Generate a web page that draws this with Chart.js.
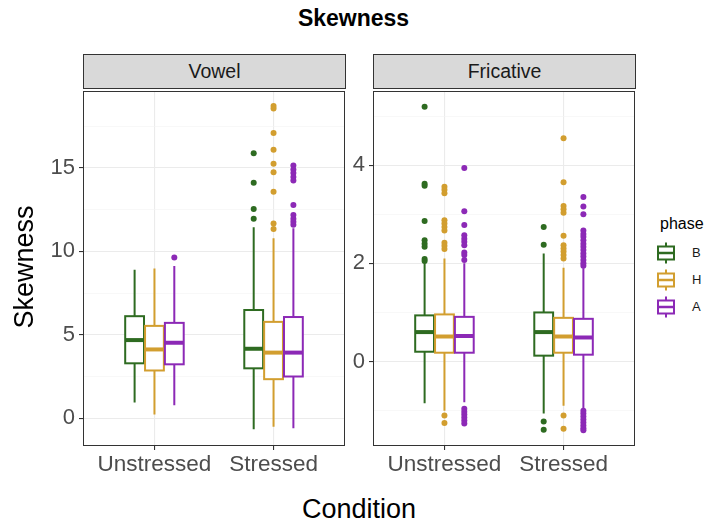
<!DOCTYPE html>
<html>
<head>
<meta charset="utf-8">
<script src="https://cdn.jsdelivr.net/npm/chart.js@4.4.1/dist/chart.umd.min.js"></script>
<style>
  body { margin: 0; background: #fff; font-family: "Liberation Sans", Arial, sans-serif; }
  #fig { position: relative; width: 707px; height: 518px; overflow: hidden; background: #fff; }
  #fig canvas { position: absolute; }
  .txt { position: absolute; white-space: nowrap; text-align: center; }
  .strip {
    position: absolute; top: 54px; height: 35px; width: 263px; box-sizing: border-box;
    background: #D9D9D9; border: 1px solid #333; color: #1A1A1A; font-size: 19.5px;
    display: flex; align-items: center; justify-content: center;
  }
  .key { position: absolute; left: 655px; }
  .keylab { position: absolute; left: 692px; font-size: 13px; color: #1A1A1A; line-height: 16px; }
</style>
</head>
<body>
<div id="fig">
  <div class="txt" style="left:0;top:5px;width:707px;line-height:26px;font-size:23px;font-weight:bold;color:#000">Skewness</div>

  <div class="strip" style="left:83px">Vowel</div>
  <div class="strip" style="left:373px">Fricative</div>

  <canvas id="vowel" width="350" height="400" style="left:0;top:88px"></canvas>
  <canvas id="fricative" width="300" height="400" style="left:340px;top:88px"></canvas>

  <div class="txt" style="left:-126px;top:252px;width:300px;line-height:30px;font-size:27px;color:#000;transform:rotate(-90deg)">Skewness</div>
  <div class="txt" style="left:209px;top:494px;width:300px;line-height:30px;font-size:27px;color:#000">Condition</div>

  <div class="txt" style="left:660px;top:214px;line-height:20px;font-size:16px;color:#000;text-align:left">phase</div>
  <div id="legend"></div>
</div>

<script>
const conditions = ['Unstressed', 'Stressed'];
const phases = ['B', 'H', 'A'];
const phaseColors = ['#2E6B21', '#D29E2F', '#8C29B6'];

// [lower whisker, Q1, median, Q3, upper whisker] for Unstressed, Stressed
const vowelB = [[0.95, 3.30, 4.69, 6.12, 8.90], [-0.65, 3.00, 4.17, 6.49, 11.44]];
const vowelH = [[0.24, 2.87, 4.13, 5.54, 8.97], [-0.50, 2.35, 3.94, 5.78, 10.79]];
const vowelA = [[0.79, 3.24, 4.53, 5.72, 9.12], [-0.59, 2.51, 3.94, 6.07, 11.38]];
const vowelOutB = [[], [15.87, 14.11, 12.53, 11.95]];
const vowelOutH = [[], [18.70, 18.55, 17.08, 16.09, 15.24, 14.74, 13.57, 11.67, 11.34]];
const vowelOutA = [[9.64], [15.14, 14.90, 14.69, 14.45, 14.25, 12.78, 12.17, 11.95, 11.77, 11.60]];

const fricB = [[-0.85, 0.20, 0.60, 0.94, 2.00], [-1.06, 0.12, 0.60, 1.00, 2.20]];
const fricH = [[-1.00, 0.18, 0.51, 0.96, 2.10], [-0.90, 0.18, 0.51, 0.89, 1.91]];
const fricA = [[-0.83, 0.18, 0.52, 0.91, 2.00], [-0.96, 0.14, 0.49, 0.87, 1.90]];
const fricOutB = [[5.19, 3.62, 3.58, 2.86, 2.47, 2.40, 2.34, 2.09, 2.05],
                  [2.74, 2.38, -1.22, -1.39]];
const fricOutH = [[3.56, 3.50, 3.43, 2.88, 2.81, 2.74, 2.67, 2.42, 2.36, 2.29, -1.10, -1.25],
                  [4.55, 3.65, 3.17, 3.10, 3.03, 2.56, 2.37, 2.30, 2.24, 2.17, 2.10, -1.10, -1.37]];
const fricOutA = [[3.94, 3.06, 2.78, 2.57, 2.50, 2.44, 2.37, 2.22, 2.17, 2.07,
                   -0.96, -1.02, -1.08, -1.14, -1.20, -1.26],
                  [3.35, 3.16, 3.00, 2.67, 2.60, 2.54, 2.47, 2.40, 2.34, 2.27, 2.20, 2.14, 2.07, 2.00, 1.95,
                   -1.00, -1.06, -1.12, -1.18, -1.24, -1.30, -1.36, -1.40]];

const vowelTicks = [0, 2.5, 5, 7.5, 10, 12.5, 15, 17.5];
const fricTicks = [-1, 0, 1, 2, 3, 4, 5];

// dodge offsets and box width, in category units
const dodge = [-1 / 6, 0, 1 / 6];
const boxWidth = 0.158;
const FONT = '"Liberation Sans", Arial, sans-serif';

function boxPlugin(stats) {
  return {
    id: 'boxes',
    afterDatasetsDraw(chart) {
      const { ctx, scales: { x, y } } = chart;
      ctx.save();
      stats.forEach((group, i) => {
        group.forEach((s, j) => {
          const pos = j + 1 + dodge[i];
          const cx = x.getPixelForValue(pos);
          const left = x.getPixelForValue(pos - boxWidth / 2);
          const right = x.getPixelForValue(pos + boxWidth / 2);
          const [lo, q1, med, q3, hi] = s.map(v => y.getPixelForValue(v));
          ctx.strokeStyle = phaseColors[i];
          ctx.lineWidth = 2;
          ctx.beginPath();
          ctx.moveTo(cx, hi); ctx.lineTo(cx, q3);
          ctx.moveTo(cx, q1); ctx.lineTo(cx, lo);
          ctx.stroke();
          ctx.fillStyle = '#fff';
          ctx.fillRect(left, q3, right - left, q1 - q3);
          ctx.strokeRect(left, q3, right - left, q1 - q3);
          ctx.lineWidth = 4;
          ctx.beginPath();
          ctx.moveTo(left, med); ctx.lineTo(right, med);
          ctx.stroke();
        });
      });
      ctx.restore();
    }
  };
}

const panelBorder = {
  id: 'panelBorder',
  afterDraw(chart) {
    const { ctx, chartArea: a } = chart;
    ctx.save();
    ctx.strokeStyle = '#333';
    ctx.lineWidth = 1;
    ctx.strokeRect(a.left + 0.5, a.top + 0.5, a.right - a.left - 1, a.bottom - a.top - 1);
    ctx.restore();
  }
};

function outlierSets(outs) {
  return outs.map((perCond, i) => ({
    label: phases[i],
    data: perCond.flatMap((vals, j) => vals.map(v => ({ x: j + 1 + dodge[i], y: v }))),
    pointRadius: 3,
    pointBorderWidth: 0,
    pointBackgroundColor: phaseColors[i],
    pointHoverRadius: 3
  }));
}

function makePanel(id, stats, outs, yMin, yMax, ticks, majorStep, axisWidth) {
  const isMajor = v => Math.abs(v % majorStep) < 1e-9;
  return new Chart(document.getElementById(id), {
    type: 'scatter',
    data: { datasets: outlierSets(outs) },
    plugins: [boxPlugin(stats), panelBorder],
    options: {
      responsive: false,
      animation: false,
      events: [],
      layout: { padding: { left: 0, right: 5, top: 0, bottom: 0 } },
      plugins: { legend: { display: false }, tooltip: { enabled: false } },
      scales: {
        x: {
          type: 'linear', min: 0.4, max: 2.6,
          afterBuildTicks: s => { s.ticks = [{ value: 1 }, { value: 2 }]; },
          afterFit: s => { s.height = 42; s.paddingLeft = 0; s.paddingRight = 0; },
          border: { display: false },
          grid: { color: '#EBEBEB', lineWidth: 1.1, tickColor: '#333', tickWidth: 1.1, tickLength: 4 },
          ticks: {
            autoSkip: false, maxRotation: 0, padding: 1,
            color: '#4D4D4D', font: { family: FONT, size: 22.5 },
            callback: v => conditions[v - 1]
          }
        },
        y: {
          min: yMin, max: yMax,
          afterBuildTicks: s => { s.ticks = ticks.map(v => ({ value: v })); },
          afterFit: s => { s.width = axisWidth; s.paddingTop = 0; s.paddingBottom = 0; },
          border: { display: false },
          grid: {
            color: c => isMajor(c.tick.value) ? '#EBEBEB' : '#F3F3F3',
            lineWidth: c => isMajor(c.tick.value) ? 1.1 : 0.6,
            tickColor: c => isMajor(c.tick.value) ? '#333' : 'rgba(0,0,0,0)',
            tickWidth: 1.1,
            tickLength: 4
          },
          ticks: {
            padding: 4, color: '#4D4D4D', font: { family: FONT, size: 22 },
            callback: v => isMajor(v) ? String(v) : ''
          }
        }
      }
    }
  });
}

makePanel('vowel', [vowelB, vowelH, vowelA], [vowelOutB, vowelOutH, vowelOutA],
  -1.65, 19.6, vowelTicks, 5, 83);
makePanel('fricative', [fricB, fricH, fricA], [fricOutB, fricOutH, fricOutA],
  -1.72, 5.51, fricTicks, 2, 33);

// legend keys: small boxplot glyphs
const legend = document.getElementById('legend');
phases.forEach((p, i) => {
  const cy = 253 + i * 27;
  const c = phaseColors[i];
  legend.insertAdjacentHTML('beforeend',
    `<svg class="key" style="top:${cy - 12}px" width="22" height="24" viewBox="0 0 22 24">
       <line x1="11" y1="1.5" x2="11" y2="5.5" stroke="${c}" stroke-width="2"/>
       <line x1="11" y1="18.5" x2="11" y2="22.5" stroke="${c}" stroke-width="2"/>
       <rect x="3" y="5.5" width="16" height="13" fill="#fff" stroke="${c}" stroke-width="2"/>
       <line x1="3" y1="12" x2="19" y2="12" stroke="${c}" stroke-width="2.5"/>
     </svg>
     <div class="keylab" style="top:${cy - 8}px">${p}</div>`);
});
</script>
</body>
</html>
